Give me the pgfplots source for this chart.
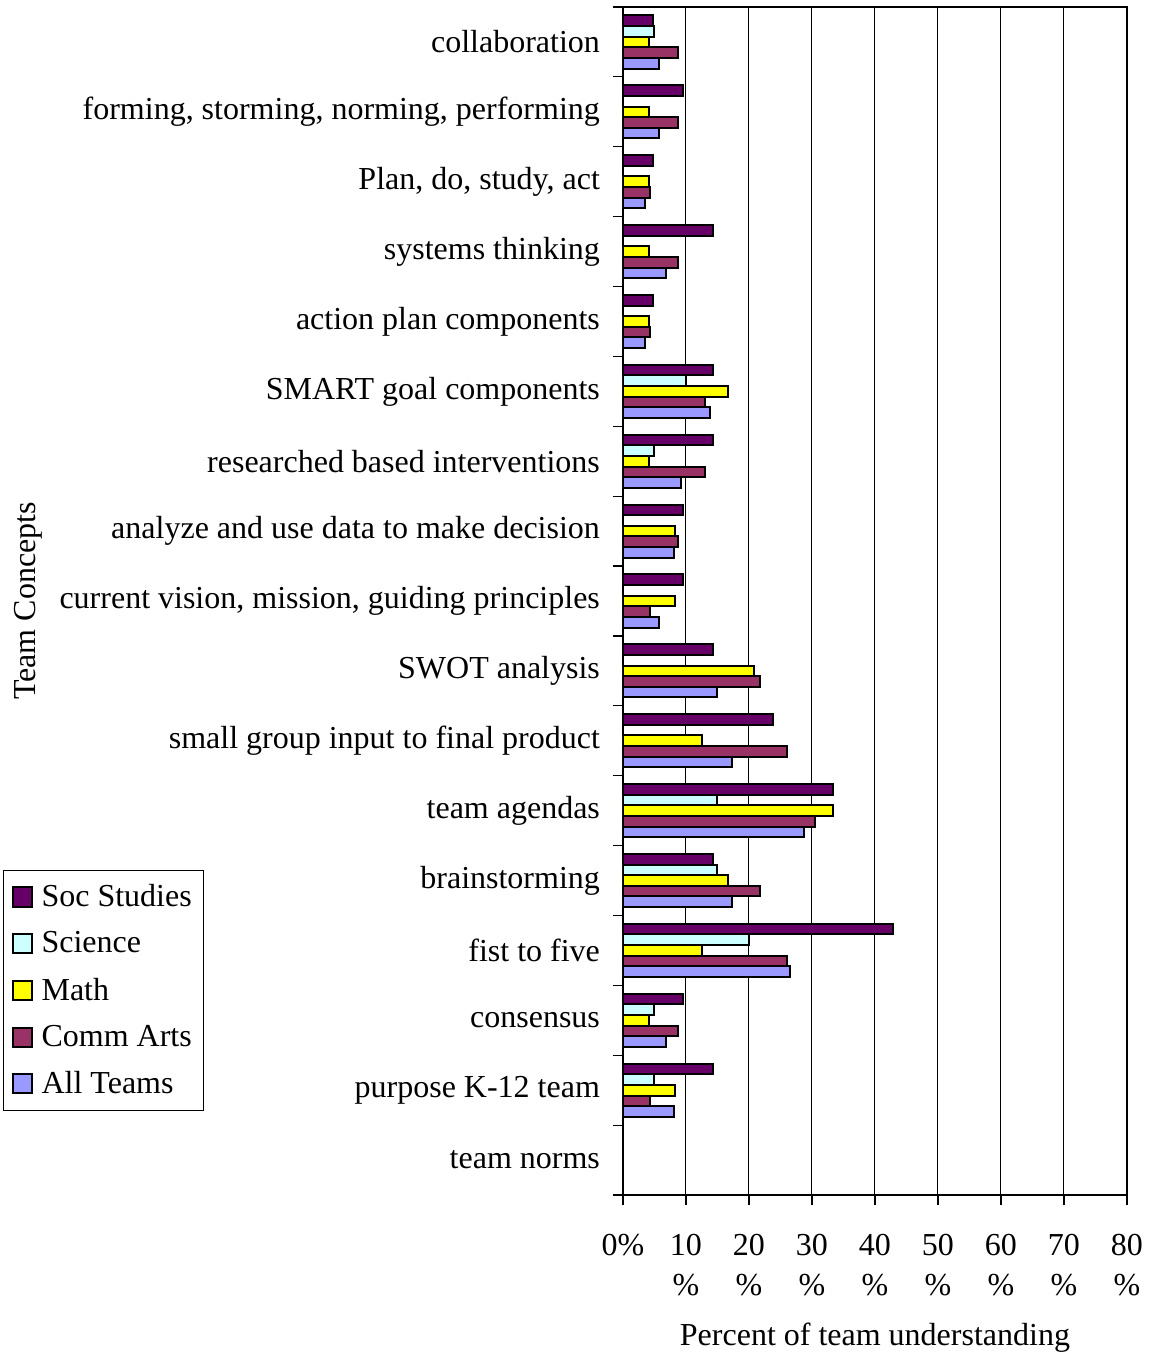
\documentclass[border=0pt]{standalone}
\usepackage{fontspec}
\setmainfont{Liberation Serif}
\usepackage{pgfplots}
\usepackage{pgfplotstable}
\pgfplotsset{compat=1.18}

\definecolor{socc}{HTML}{660066}
\definecolor{scic}{HTML}{CCFFFF}
\definecolor{mathc}{HTML}{FFFF00}
\definecolor{commc}{HTML}{993366}
\definecolor{allc}{HTML}{9999FF}

% Share of each group that understood each concept (percent); nan = no bar
\pgfplotstableread{
idx soc   sci  math  comm  all
0   4.76  5.0  4.17  8.70  5.75
1   9.52  nan  4.17  8.70  5.75
2   4.76  nan  4.17  4.35  3.45
3   14.29 nan  4.17  8.70  6.90
4   4.76  nan  4.17  4.35  3.45
5   14.29 10.0 16.67 13.04 13.79
6   14.29 5.0  4.17  13.04 9.20
7   9.52  nan  8.33  8.70  8.05
8   9.52  nan  8.33  4.35  5.75
9   14.29 nan  20.83 21.74 14.94
10  23.81 nan  12.50 26.09 17.24
11  33.33 15.0 33.33 30.43 28.74
12  14.29 15.0 16.67 21.74 17.24
13  42.86 20.0 12.50 26.09 26.44
14  9.52  5.0  4.17  8.70  6.90
15  14.29 5.0  8.33  4.35  8.05
16  nan   nan  nan   nan   nan
}\datatable

\begin{document}
\begin{tikzpicture}[font=\fontsize{16pt}{20pt}\selectfont]
\begin{axis}[
  scale only axis,
  width=252pt, height=594pt,
  xbar,
  y dir=reverse,
  xmin=0, xmax=80,
  ymin=-0.5, ymax=16.5,
  bar width=0.152,
  axis line style={line width=0.7pt},
  tick pos=left,
  xtick={0,10,...,80},
  xticklabels={0\%,10\\\%,20\\\%,30\\\%,40\\\%,50\\\%,60\\\%,70\\\%,80\\\%},
  xticklabel style={align=center, yshift=-11pt},
  xmajorgrids,
  major grid style={black, line width=0.5pt},
  tick align=outside,
  major tick length=5pt,
  minor tick length=5pt,
  ytick={0,...,16},
  yticklabels={collaboration,{forming, storming, norming, performing},{Plan, do, study, act},systems thinking,action plan components,SMART goal components,researched based interventions,analyze and use data to make decision,{current vision, mission, guiding principles},SWOT analysis,small group input to final product,team agendas,brainstorming,fist to five,consensus,purpose K-12 team,team norms},
  yticklabel style={xshift=-3pt},
  major y tick style={draw=none},
  minor ytick={-0.5,0.5,1.5,2.5,3.5,4.5,5.5,6.5,7.5,8.5,9.5,10.5,11.5,12.5,13.5,14.5,15.5,16.5},
  minor y tick style={draw=black, line width=0.6pt},
  major x tick style={draw=black, line width=0.6pt},
  xlabel={Percent of team understanding},
  ylabel={Team Concepts},
  xlabel style={yshift=-6.5pt},
  ylabel style={at={(rel axis cs:-1.1806,0.5)}, anchor=center, rotate=0},
  unbounded coords=discard,
  every axis plot/.append style={draw=black, line width=1pt},
  legend style={at={(rel axis cs:-1.23,0.2736)}, anchor=north west,
    draw=black, line width=0.5pt, row sep=7pt,
    inner xsep=4pt, inner ysep=5pt,
    font=\fontsize{16pt}{19pt}\selectfont,
    cells={anchor=west}},
  legend image code/.code={\draw[#1, line width=1pt] (0pt,-4.8pt) rectangle (9.6pt,4.8pt); \path (12pt,0pt);},
]
\addplot[fill=socc, bar shift=-0.304] table[x=soc, y=idx] {\datatable};
\addplot[fill=scic, bar shift=-0.152] table[x=sci, y=idx] {\datatable};
\addplot[fill=mathc, bar shift=0] table[x=math, y=idx] {\datatable};
\addplot[fill=commc, bar shift=0.152] table[x=comm, y=idx] {\datatable};
\addplot[fill=allc, bar shift=0.304] table[x=all, y=idx] {\datatable};
\legend{Soc Studies,Science,Math,Comm Arts,All Teams}
\end{axis}
\pgfresetboundingbox
\path[use as bounding box] ([shift={(-311.5pt,-79.5pt)}]current axis.south west) rectangle ([shift={(15.5pt,3.5pt)}]current axis.north east);
\end{tikzpicture}
\end{document}
